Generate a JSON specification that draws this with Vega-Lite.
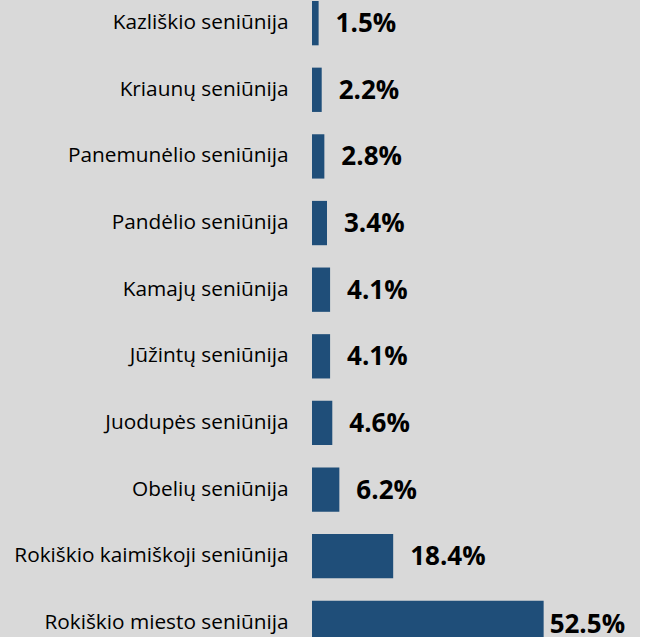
{
  "$schema": "https://vega.github.io/schema/vega-lite/v6.json",
  "autosize": {"type": "none"},
  "padding": {"left": 312, "top": 1, "right": 0, "bottom": 0},
  "width": 328,
  "height": 644,
  "background": "#d9d9d9",
  "config": {"view": {"stroke": null}},
  "data": {
    "values": [
      {"name": "Kazliškio seniūnija", "share": 0.015},
      {"name": "Kriaunų seniūnija", "share": 0.022},
      {"name": "Panemunėlio seniūnija", "share": 0.028},
      {"name": "Pandėlio seniūnija", "share": 0.034},
      {"name": "Kamajų seniūnija", "share": 0.041},
      {"name": "Jūžintų seniūnija", "share": 0.041},
      {"name": "Juodupės seniūnija", "share": 0.046},
      {"name": "Obelių seniūnija", "share": 0.062},
      {"name": "Rokiškio kaimiškoji seniūnija", "share": 0.184},
      {"name": "Rokiškio miesto seniūnija", "share": 0.525}
    ]
  },
  "encoding": {
    "y": {
      "field": "name",
      "type": "nominal",
      "sort": null,
      "scale": {"paddingInner": 0.335, "paddingOuter": 0},
      "axis": {
        "title": null,
        "domain": false,
        "ticks": false,
        "labelPadding": 24,
        "labelFont": "Open Sans",
        "labelFontSize": 20.8,
        "labelColor": "#000000",
        "labelLimit": 400
      }
    },
    "x": {
      "field": "share",
      "type": "quantitative",
      "scale": {"domain": [0, 0.7434], "nice": false},
      "axis": null
    }
  },
  "layer": [
    {"mark": {"type": "bar", "color": "#1f4e79"}},
    {
      "transform": [{"filter": "datum.share < 0.5"}],
      "mark": {
        "type": "text",
        "align": "left",
        "baseline": "middle",
        "dx": 17,
        "dy": 1,
        "font": "Open Sans",
        "fontSize": 26,
        "fontWeight": "bold",
        "color": "#000000"
      },
      "encoding": {"text": {"field": "share", "type": "quantitative", "format": ".1%"}}
    },
    {
      "transform": [{"filter": "datum.share >= 0.5"}],
      "mark": {
        "type": "text",
        "align": "left",
        "baseline": "middle",
        "dx": 6,
        "dy": 2,
        "font": "Open Sans",
        "fontSize": 26,
        "fontWeight": "bold",
        "color": "#000000"
      },
      "encoding": {"text": {"field": "share", "type": "quantitative", "format": ".1%"}}
    }
  ]
}
